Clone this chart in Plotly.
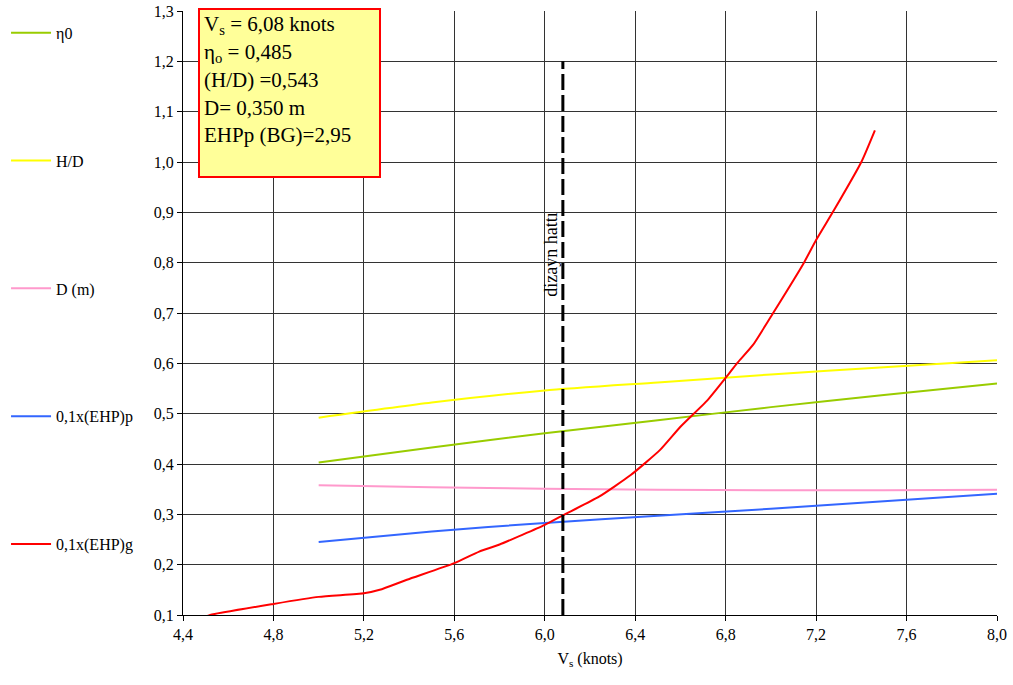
import plotly.graph_objects as go

# ---- data ----
vs_common = [5.0, 5.5, 6.0, 6.5, 7.0, 7.5, 8.0]
eta0 = [0.403, 0.433, 0.461, 0.487, 0.513, 0.537, 0.560]
h_d = [0.492, 0.522, 0.546, 0.562, 0.578, 0.592, 0.606]
d_m = [0.358, 0.354, 0.351, 0.349, 0.348, 0.348, 0.349]
ehp_p = [0.245, 0.266, 0.283, 0.297, 0.311, 0.326, 0.341]

vs_g = [4.48, 4.52, 4.8, 5.0, 5.2, 5.27, 5.39, 5.6, 5.71, 5.8, 6.0, 6.08, 6.24,
        6.38, 6.51, 6.6, 6.72, 6.805, 6.85, 6.92, 7.01, 7.145, 7.2, 7.28, 7.4, 7.46]
ehp_g = [0.093, 0.1, 0.122, 0.136, 0.143, 0.150, 0.170, 0.203, 0.226, 0.240, 0.279, 0.298, 0.335,
         0.378, 0.428, 0.474, 0.527, 0.574, 0.600, 0.636, 0.700, 0.799, 0.845, 0.905, 1.0, 1.063]

design_vs = [6.08, 6.08]
design_y = [0.1, 1.2]

x_ticks = [4.4, 4.8, 5.2, 5.6, 6.0, 6.4, 6.8, 7.2, 7.6, 8.0]
y_ticks = [0.1, 0.2, 0.3, 0.4, 0.5, 0.6, 0.7, 0.8, 0.9, 1.0, 1.1, 1.2, 1.3]

info_lines = ["V<sub>s</sub> = 6,08 knots", "η<sub>o</sub> = 0,485", "(H/D) =0,543",
              "D= 0,350 m", "EHPp (BG)=2,95"]

FONT = "Liberation Serif"

fig = go.Figure()
series = [
    ("η0", vs_common, eta0, "#99CC00"),
    ("H/D", vs_common, h_d, "#FFFF00"),
    ("D (m)", vs_common, d_m, "#FF99CC"),
    ("0,1x(EHP)p", vs_common, ehp_p, "#3366FF"),
]
for name, xs, ys, col in series:
    fig.add_trace(go.Scatter(x=xs, y=ys, mode="lines", name=name, legendgroup=name,
                             line=dict(color=col, width=2, shape="spline", smoothing=0.6)))
fig.add_trace(go.Scatter(x=vs_g, y=ehp_g, mode="lines", name="0,1x(EHP)g", legendgroup="g",
                         line=dict(color="#FF0000", width=2, shape="spline", smoothing=0.5)))
fig.add_trace(go.Scatter(x=design_vs, y=design_y, mode="lines", showlegend=False,
                         line=dict(color="black", width=3, dash="16px,5px")))

fig.add_annotation(x=6.024, y=0.816, xref="x", yref="y", text="dizayn hattı", textangle=-90,
                   showarrow=False, font=dict(family=FONT, size=18, color="black"))

# info box
fig.add_shape(type="rect", xref="paper", yref="paper",
              x0=(199 - 183) / 814, x1=(380 - 183) / 814,
              y0=(615 - 177) / 604, y1=(615 - 9) / 604,
              fillcolor="#FFFF99", line=dict(color="#FF0000", width=2), layer="above")
for i, t in enumerate(info_lines):
    ypx = 25 + i * 27.5
    fig.add_annotation(x=(202 - 183) / 814, y=(615 - ypx) / 604, xref="paper", yref="paper",
                       xanchor="left", yanchor="middle", text=t, showarrow=False,
                       font=dict(family=FONT, size=21, color="black"))

axis_common = dict(showgrid=True, gridcolor="#333333", gridwidth=1, showline=True,
                   linecolor="black", linewidth=1, ticks="outside", ticklen=5,
                   tickcolor="black", zeroline=False, mirror=False, automargin=False,
                   tickfont=dict(family=FONT, size=16, color="black"))

fig.update_layout(
    width=1013, height=685,
    margin=dict(l=183, r=16, t=11, b=70, autoexpand=False),
    plot_bgcolor="white", paper_bgcolor="white",
    font=dict(family=FONT, size=16, color="black"),
    xaxis=dict(range=[4.4, 8.0], tickvals=x_ticks,
               ticktext=[f"{v:.1f}".replace(".", ",") for v in x_ticks],
               title=dict(text="V<sub>s</sub> (knots)", font=dict(family=FONT, size=16), standoff=10),
               **axis_common),
    yaxis=dict(range=[0.1, 1.3], tickvals=y_ticks,
               ticktext=[f"{v:.1f}".replace(".", ",") for v in y_ticks],
               **axis_common),
    legend=dict(x=-0.2174, y=0.992, xanchor="left", yanchor="top", traceorder="grouped",
                tracegroupgap=104, itemwidth=40, font=dict(family=FONT, size=16),
                bgcolor="rgba(0,0,0,0)"),
    showlegend=True,
)

fig.write_html("out.html", post_script="document.body.style.margin='0';",
               config={"displayModeBar": False})
